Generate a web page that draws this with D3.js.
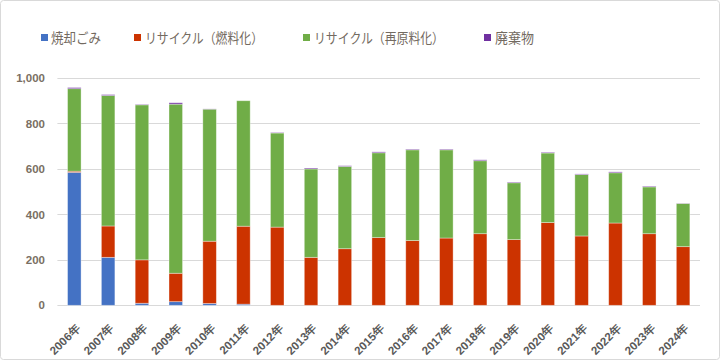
<!DOCTYPE html>
<html><head><meta charset="utf-8">
<script src="https://cdn.jsdelivr.net/npm/d3@7"></script>
<style>body{margin:0;background:#fff}svg{display:block}</style>
</head><body>
<svg id="c" width="720" height="360"></svg>
<script>
const years = ["2006年","2007年","2008年","2009年","2010年","2011年","2012年","2013年","2014年","2015年","2016年","2017年","2018年","2019年","2020年","2021年","2022年","2023年","2024年"];
const seriesNames = ["焼却ごみ","リサイクル（燃料化）","リサイクル（再原料化）","廃棄物"];
const incineration = [585,211,9,16,8,5,0,0,0,0,0,0,0,0,0,0,0,0,0];
const recycleFuel = [5,138,191,125,274,343,344,211,249,298,285,296,315,289,364,305,362,315,258];
const recycleMaterial = [363,574,682,744,581,552,414,389,362,373,399,388,321,250,306,270,221,206,190];
const waste = [5,4,2,6,1,0,2,4,3,4,3,3,4,3,3,3,4,3,1];
const yTicks = [0,200,400,600,800,1000];
const colors = ["#4472c4","#cc3300","#70ad47","#7030a0"];

const svg = d3.select("#c");
svg.append("rect").attr("x",0.5).attr("y",0.5).attr("width",719).attr("height",359)
  .attr("rx",3).attr("fill","#fff").attr("stroke","#d9d9d9");

const m = {l:57.4, r:700, t:78, b:305.3};
const x = d3.scaleBand().domain(years).range([m.l,m.r]).paddingInner(0.6).paddingOuter(0.3);
const y = d3.scaleLinear().domain([0,1000]).range([m.b,m.t]);

// gridlines
svg.append("g").selectAll("line").data(yTicks).join("line")
  .attr("x1",m.l).attr("x2",m.r)
  .attr("y1",d=>Math.round(y(d))+0.5).attr("y2",d=>Math.round(y(d))+0.5)
  .attr("stroke","#d9d9d9").attr("stroke-width",1);

// y labels
const yAxis = d3.axisLeft(y).tickValues(yTicks).tickSize(0).tickPadding(0).tickFormat(d3.format(","));
const gy = svg.append("g").attr("transform",`translate(45,0)`).call(yAxis);
gy.select(".domain").remove();
gy.selectAll("text").attr("font-family","'Liberation Sans', Arial, sans-serif")
  .attr("font-weight","bold").attr("font-size",11.5).attr("fill","#7a6f63");

// stacked data
const table = years.map((yr,i)=>({year:yr, s0:incineration[i], s1:recycleFuel[i], s2:recycleMaterial[i], s3:waste[i]}));
const stack = d3.stack().keys(["s0","s1","s2","s3"])(table);
svg.append("g").selectAll("g").data(stack).join("g")
  .attr("fill",(d,i)=>colors[i])
  .selectAll("rect").data(d=>d).join("rect")
  .attr("x",d=>x(d.data.year)).attr("width",x.bandwidth())
  .attr("y",d=>y(d[1])).attr("height",d=>Math.max(0,y(d[0])-y(d[1])))
  .attr("stroke","rgba(255,255,255,0.45)").attr("stroke-width",0.8);

// x labels
const xAxis = d3.axisBottom(x).tickSize(0).tickPadding(0);
const gx = svg.append("g").call(xAxis);
gx.select(".domain").remove();
gx.selectAll(".tick").attr("transform",d=>`translate(${x(d)+x.bandwidth()/2+4},326)`);
gx.selectAll("text").attr("y",0).attr("dy","0.35em").attr("text-anchor","end")
  .attr("transform","rotate(-45)")
  .attr("font-family","'Liberation Sans', Arial, sans-serif").attr("font-weight","bold")
  .attr("font-size",11.5).attr("fill","#595959");

// legend
const legX = [41,134,303,484];
const legW = [50,118,130,39];
const lg = svg.append("g").selectAll("g").data(seriesNames).join("g")
  .attr("transform",(d,i)=>`translate(${legX[i]},38)`);
lg.append("rect").attr("x",0).attr("y",-4).attr("width",7).attr("height",7).attr("fill",(d,i)=>colors[i]);
lg.append("text").attr("x",(d,i)=>i===0?10:11).attr("y",0).attr("dy","0.35em").text(d=>d)
  .attr("textLength",(d,i)=>legW[i]).attr("lengthAdjust","spacingAndGlyphs")
  .attr("font-family","'Noto Sans CJK JP', sans-serif").attr("font-size",14).attr("fill","#736a60");
</script>
</body></html>
